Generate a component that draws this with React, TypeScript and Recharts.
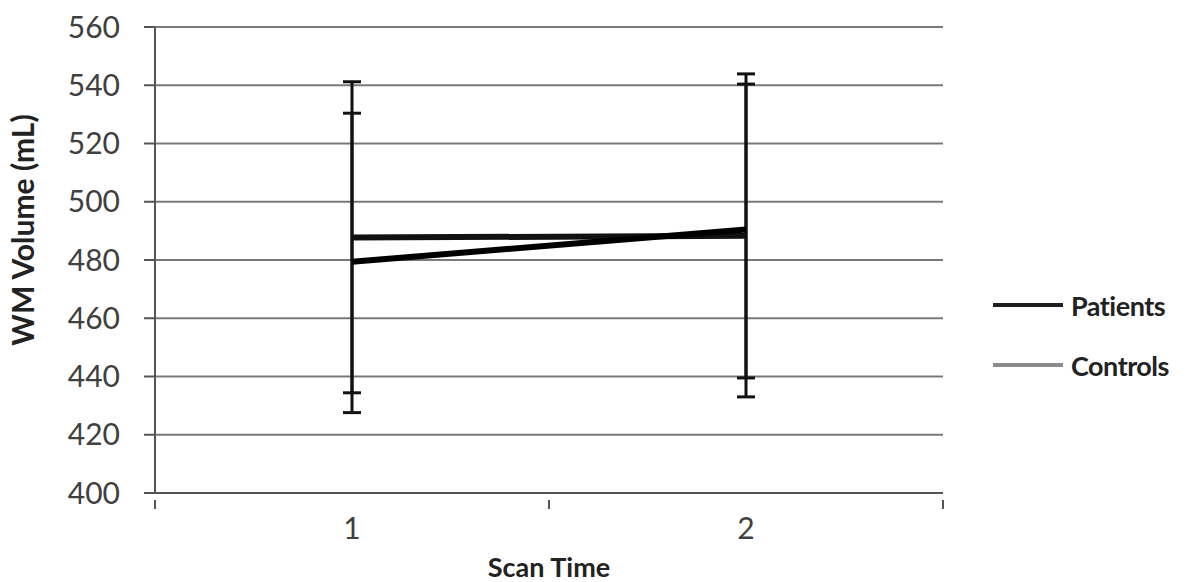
import React from 'react';
import { LineChart, Line, XAxis, YAxis, CartesianGrid, ErrorBar, Legend } from 'recharts';

const scanTimes = [1, 2];
const patients = [479.4, 490.5];
const controls = [487.7, 488.3];
const patientsErr = [[51.8, 51.0], [51.0, 53.4]];
const controlsErr = [[53.3, 53.5], [55.3, 52.1]];
const yTicks = [400, 420, 440, 460, 480, 500, 520, 540, 560];
const xTicks = [0.5, 1, 1.5, 2, 2.5];
const seriesNames = ['Patients', 'Controls'];
const legendColors = ['#1e1e1e', '#8a8a8a'];

const data = scanTimes.map((t, i) => ({
  t,
  patients: patients[i],
  controls: controls[i],
  pErr: patientsErr[i],
  cErr: controlsErr[i],
}));

const FONT = 'Lato, "Noto Sans", sans-serif';

const XTick = (props: any) => {
  const { x, y, payload } = props;
  if (Number.isInteger(payload.value)) {
    return (
      <text x={x} y={y + 38} textAnchor="middle" fontFamily={FONT} fontSize={30} fill="#404040">
        {payload.value}
      </text>
    );
  }
  return <line x1={x} y1={y - 1} x2={x} y2={y + 8} stroke="#555" strokeWidth={2} />;
};

const LegendContent = () => (
  <div style={{ fontFamily: FONT }}>
    {seriesNames.map((n, i) => (
      <div key={n} style={{ display: 'flex', alignItems: 'center', height: 60 }}>
        <div style={{ width: 70, height: 4, background: legendColors[i], marginRight: 8 }} />
        <span style={{ fontSize: 27, fontWeight: 700, color: '#222', letterSpacing: -0.5 }}>{n}</span>
      </div>
    ))}
  </div>
);

export default function App() {
  return (
    <div style={{ position: 'absolute', left: 0, top: 0, background: '#fff' }}>
      <LineChart width={1193} height={582} data={data} margin={{ top: 27, right: 250, bottom: 0, left: 0 }}>
        <CartesianGrid vertical={false} stroke="#7a7a7a" strokeWidth={2} />
        <XAxis
          dataKey="t"
          type="number"
          domain={[0.5, 2.5]}
          ticks={xTicks}
          interval={0}
          tick={<XTick />}
          tickLine={false}
          axisLine={{ stroke: '#555', strokeWidth: 2 }}
          height={89}
          label={(p: any) => {
            const vb = p.viewBox;
            return (
              <text x={vb.x + vb.width / 2} y={577} textAnchor="middle" fontFamily={FONT} fontSize={27} fontWeight={700} fill="#222">
                Scan Time
              </text>
            );
          }}
        />
        <YAxis
          type="number"
          domain={[400, 560]}
          ticks={yTicks}
          interval={0}
          width={155}
          tickSize={11}
          tickMargin={24}
          tick={{ fontFamily: FONT, fontSize: 30, fill: '#404040' }}
          tickLine={{ stroke: '#555', strokeWidth: 2 }}
          axisLine={{ stroke: '#555', strokeWidth: 2 }}
          label={() => (
            <text x={22} y={230} transform="rotate(-90 22 230)" textAnchor="middle" dominantBaseline="central" fontFamily={FONT} fontSize={30} fontWeight={700} fill="#222">
              WM Volume (mL)
            </text>
          )}
        />
        <Legend
          layout="horizontal"
          verticalAlign="middle"
          align="center"
          content={<LegendContent />}
          wrapperStyle={{ left: 993, top: 275, width: 200 }}
        />
        <Line dataKey="controls" name="Controls" stroke="#111" strokeWidth={6} dot={false} isAnimationActive={false}>
          <ErrorBar dataKey="cErr" direction="y" width={9} stroke="#111" strokeWidth={3} isAnimationActive={false} />
        </Line>
        <Line dataKey="patients" name="Patients" stroke="#000" strokeWidth={6} dot={false} isAnimationActive={false}>
          <ErrorBar dataKey="pErr" direction="y" width={9} stroke="#111" strokeWidth={3} isAnimationActive={false} />
        </Line>
      </LineChart>
    </div>
  );
}
